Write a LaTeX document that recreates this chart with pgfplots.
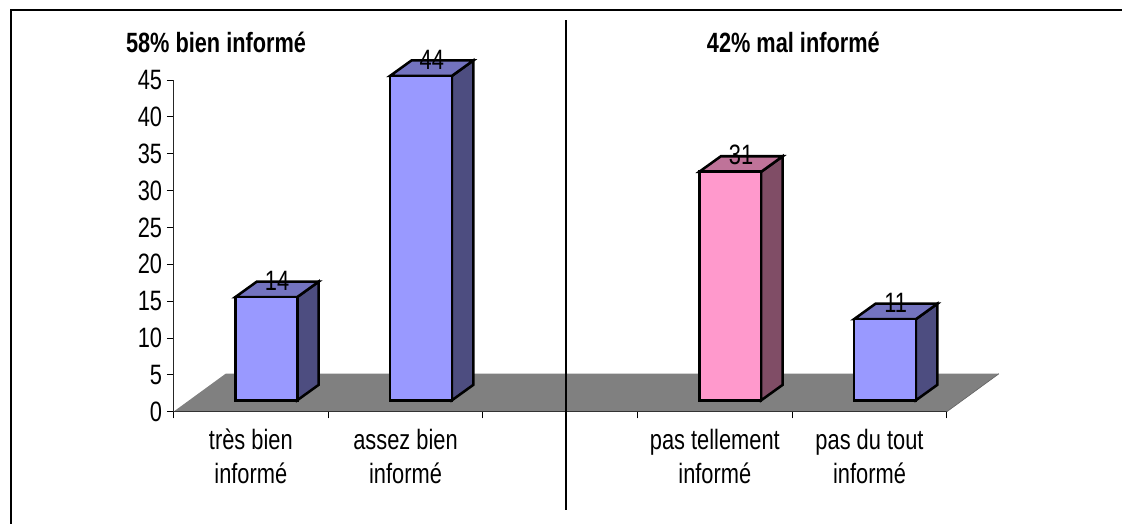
\documentclass[border=0pt]{standalone}
\usepackage{pgfplots}
\pgfplotsset{compat=1.18}
\usepackage{fontspec}
\setmainfont[FakeStretch=0.78]{Liberation Sans}
\definecolor{barF}{HTML}{9999FF}
\definecolor{barT}{HTML}{7373BF}
\definecolor{barS}{HTML}{4D4D80}
\definecolor{pinkF}{HTML}{FF99CC}
\definecolor{pinkT}{HTML}{BF7399}
\definecolor{pinkS}{HTML}{804D66}
\definecolor{floorc}{HTML}{808080}
\pgfplotsset{
  face/.style={draw=black,line width=1.9pt,line join=miter,fill=#1,mark=none}
}
\begin{document}
\begin{tikzpicture}
\path[use as bounding box] (0pt,0pt) rectangle (841.5pt,-393pt);
\draw[line width=1.5pt] (8.25pt,-393pt) -- (8.25pt,-7.5pt) -- (841.5pt,-7.5pt);
\begin{axis}[
  at={(130.125pt,-308.775pt)},anchor=south west,
  scale only axis,width=580pt,height=248.8pt,
  xmin=0.5,xmax=5.5,ymin=0,ymax=45,
  clip=false,
  axis lines=left,axis line style={-,line width=0.75pt,color=black!85},
  xtick={0.5,1.5,2.5,3.5,4.5,5.5},
  x tick label as interval,
  xticklabels={{très bien\\informé},{assez bien\\informé},{},{pas tellement\\informé},{pas du tout\\informé}},
  x tick label style={align=center,font=\fontsize{21}{25.5}\selectfont,yshift=-4.5pt},
  ytick={0,5,...,45},
  y tick label style={font=\fontsize{21}{22}\selectfont},
  /pgf/number format/assume math mode=true,
  tick style={black,line width=0.6pt},
  major tick length=5pt,
  tick align=outside,
  x tick style={line width=0.6pt},
]
% floor
\addplot[fill=floorc,draw=none,mark=none] coordinates {(0.5,0)(5.5,0)(5.837,5.15)(0.837,5.15)} -- cycle;
\addplot[line width=0.9pt,color=black!80,mark=none] coordinates {(0.5,0)(5.5,0)};
\addplot[line width=0.5pt,color=black!60,mark=none] coordinates {(5.5,0)(5.837,5.15)};
% bar 1: 14
\addplot[face=barS] coordinates {(1.3,1.55)(1.439,3.65)(1.439,17.65)(1.3,15.55)} -- cycle;
\addplot[face=barT] coordinates {(0.9,15.55)(1.3,15.55)(1.439,17.65)(1.039,17.65)} -- cycle;
\addplot[face=barF] coordinates {(0.9,1.55)(1.3,1.55)(1.3,15.55)(0.9,15.55)} -- cycle;
% bar 2: 44
\addplot[face=barS] coordinates {(2.3,1.55)(2.439,3.65)(2.439,47.65)(2.3,45.55)} -- cycle;
\addplot[face=barT] coordinates {(1.9,45.55)(2.3,45.55)(2.439,47.65)(2.039,47.65)} -- cycle;
\addplot[face=barF] coordinates {(1.9,1.55)(2.3,1.55)(2.3,45.55)(1.9,45.55)} -- cycle;
% bar 4: 31
\addplot[face=pinkS] coordinates {(4.3,1.55)(4.439,3.65)(4.439,34.65)(4.3,32.55)} -- cycle;
\addplot[face=pinkT] coordinates {(3.9,32.55)(4.3,32.55)(4.439,34.65)(4.039,34.65)} -- cycle;
\addplot[face=pinkF] coordinates {(3.9,1.55)(4.3,1.55)(4.3,32.55)(3.9,32.55)} -- cycle;
% bar 5: 11
\addplot[face=barS] coordinates {(5.3,1.55)(5.439,3.65)(5.439,14.65)(5.3,12.55)} -- cycle;
\addplot[face=barT] coordinates {(4.9,12.55)(5.3,12.55)(5.439,14.65)(5.039,14.65)} -- cycle;
\addplot[face=barF] coordinates {(4.9,1.55)(5.3,1.55)(5.3,12.55)(4.9,12.55)} -- cycle;
% data labels
\addplot[draw=none,mark=none,
  nodes near coords,point meta=explicit,
  every node near coord/.append style={anchor=center,yshift=1pt,font=\fontsize{21}{22}\selectfont,text=black,/pgf/number format/assume math mode=true}]
  coordinates {(1.17,17.6)[14] (2.17,47.6)[44] (4.17,34.6)[31] (5.17,14.6)[11]};
% separator
\addplot[line width=1.4pt,color=black,mark=none] coordinates {(3.04,53.1)(3.04,-13.3)};
\end{axis}
\node[font=\fontsize{20.9}{24}\selectfont\bfseries,text=black] at (162pt,-32pt) {58\% bien informé};
\node[font=\fontsize{20.9}{24}\selectfont\bfseries,text=black] at (595pt,-32pt) {42\% mal informé};
\end{tikzpicture}
\end{document}
